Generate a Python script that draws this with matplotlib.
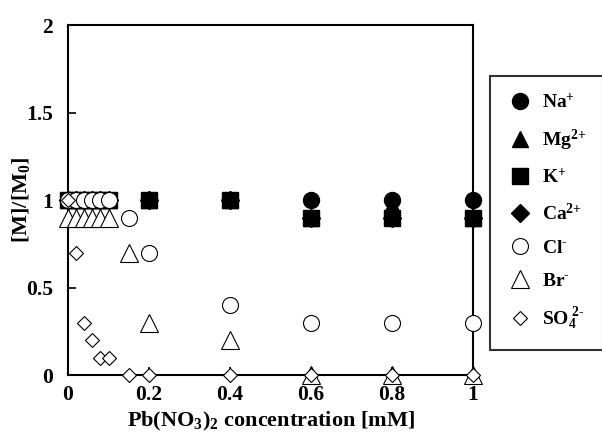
import numpy as np
import matplotlib.pyplot as plt

plt.rcParams['font.family'] = 'Liberation Serif'
plt.rcParams['font.weight'] = 'bold'
plt.rcParams['mathtext.fontset'] = 'custom'
plt.rcParams['mathtext.rm'] = 'Liberation Serif:bold'
plt.rcParams['mathtext.it'] = 'Liberation Serif:bold'
plt.rcParams['mathtext.bf'] = 'Liberation Serif:bold'

# Pb(NO3)2 concentration [mM]
x_cation = [0, 0.02, 0.04, 0.06, 0.08, 0.1, 0.2, 0.4, 0.6, 0.8, 1.0]
x_anion = [0, 0.02, 0.04, 0.06, 0.08, 0.1, 0.15, 0.2, 0.4, 0.6, 0.8, 1.0]

# [M]/[M0]
na = [1, 1, 1, 1, 1, 1, 1, 1, 1, 1, 1]
mg = [1, 1, 1, 1, 1, 1, 1, 1, 0.9, 0.97, 0.9]
k = [1, 1, 1, 1, 1, 1, 1, 1, 0.9, 0.9, 0.9]
ca = [1, 1, 1, 1, 1, 1, 1, 1, 0.9, 0.9, 0.9]
cl = [1, 1, 1, 1, 1, 1, 0.9, 0.7, 0.4, 0.3, 0.3, 0.3]
br = [0.9, 0.9, 0.9, 0.9, 0.9, 0.9, 0.7, 0.3, 0.2, 0, 0, 0]
so4 = [1, 0.7, 0.3, 0.2, 0.1, 0.1, 0, 0, 0, 0, 0, 0]

labels = ['Na$^{{+}}$', 'Mg$^{2{+}}$', 'K$^{{+}}$', 'Ca$^{2{+}}$',
          'Cl$^{\u2010}$', 'Br$^{\u2010}$', 'SO$_{4}^{\\ 2\u2010}$']

fig = plt.figure(figsize=(6.02, 4.40), dpi=100)
ax = fig.add_axes([68/602, 1 - 375/440, 405/602, 350/440])

kw = dict(linestyle='none', markeredgecolor='black', clip_on=False, zorder=3)
ax.plot(x_cation, na, marker='o', markersize=11.5, markerfacecolor='black', label=labels[0], **kw)
ax.plot(x_cation, mg, marker='^', markersize=12, markerfacecolor='black', label=labels[1], **kw)
ax.plot(x_cation, k, marker='s', markersize=12, markerfacecolor='black', label=labels[2], **kw)
ax.plot(x_cation, ca, marker='D', markersize=9, markerfacecolor='black', label=labels[3], **kw)
ax.plot(x_anion, cl, marker='o', markersize=11.5, markerfacecolor='white', markeredgewidth=0.8, label=labels[4], **kw)
ax.plot(x_anion, br, marker='^', markersize=13, markerfacecolor='white', markeredgewidth=0.8, label=labels[5], **kw)
ax.plot(x_anion, so4, marker='D', markersize=7.5, markerfacecolor='white', markeredgewidth=0.8, label=labels[6], **kw)

ax.set_xlim(0, 1)
ax.set_ylim(0, 2)
ax.set_xticks([0, 0.2, 0.4, 0.6, 0.8, 1.0])
ax.set_xticklabels(['0', '0.2', '0.4', '0.6', '0.8', '1'])
ax.set_yticks([0, 0.5, 1.0, 1.5, 2.0])
ax.set_yticklabels(['0', '0.5', '1', '1.5', '2'])
ax.tick_params(direction='in', length=6, width=1.2, labelsize=15.5)
ax.tick_params(axis='x', pad=7)
ax.tick_params(axis='y', pad=11)
for s in ax.spines.values():
    s.set_linewidth(1.5)

ax.set_xlabel('Pb(NO$_3$)$_2$ concentration [mM]', fontsize=16, fontweight='bold', labelpad=4)
ax.set_ylabel('[M]/[M$_0$]', fontsize=16, fontweight='bold')
ax.yaxis.set_label_coords(-0.088, 0.5)

leg = fig.legend(loc='upper left', bbox_to_anchor=(490/602, 1 - 76/440),
                 bbox_transform=fig.transFigure,
                 fontsize=14, frameon=True, fancybox=False, edgecolor='black',
                 markerscale=1.0, handletextpad=0.45, labelspacing=0.8,
                 borderpad=0.9, handlelength=1.3, borderaxespad=0)
leg.get_frame().set_linewidth(1.5)

fig.savefig('out.png', dpi=100)
